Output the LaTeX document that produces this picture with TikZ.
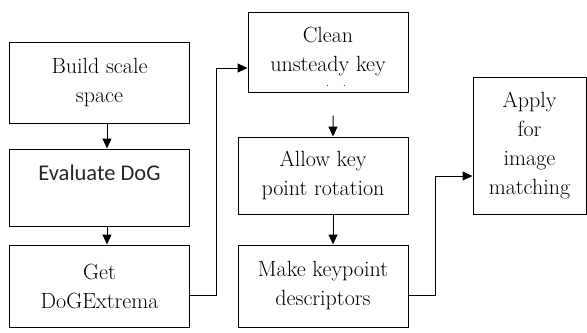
\documentclass[tikz,border=0pt]{standalone}
\usepackage{fontspec}
\newfontfamily\calfont{Carlito}
\usetikzlibrary{arrows.meta,positioning,calc}

\begin{document}
\begin{tikzpicture}[x=1bp,y=-1bp,
    box/.style={draw,line width=1bp,align=center,inner sep=0pt,
      font=\rmfamily\fontsize{22bp}{29bp}\selectfont},
    arr/.style={-{Triangle[length=10bp,width=9bp]},line width=1bp}]
  \useasboundingbox (0,0) rectangle (587,332);
  % Left column
  \node[box,minimum width=179bp,minimum height=81bp] (build) at (99.5,82.5) {Build scale\\space};
  \node[box,minimum width=179bp,minimum height=77bp,text=black!85,
     font=\calfont\fontsize{22.5bp}{29bp}\selectfont]
     (evaluate) at (99.5,187.5) {Evaluate DoG\\\mbox{}};
  \node[box,minimum width=179bp,minimum height=82bp] (get) at (99.5,286) {Get\\DoGExtrema};
  % Middle column
  \node[box,minimum width=160bp,minimum height=80bp,text depth=6bp] (clean) at (328,52) {Clean\\unsteady key};
  \node[font=\normalsize,inner sep=0pt,anchor=base] (cleandots) at (336,86) {.\hspace{14bp}.};
  \node[box,minimum width=170bp,minimum height=77bp] (allow) at (323,175.5) {Allow key\\point rotation};
  \node[box,minimum width=170bp,minimum height=82bp] (make) at (323,286) {Make keypoint\\descriptors};
  % Right
  \node[box,minimum width=113bp,minimum height=137bp] (apply) at (529.5,145.5) {Apply\\for\\image\\matching};
  % connectors
  \draw[arr] ([xshift=7.5bp]build.south) -- ([xshift=7.5bp]evaluate.north);
  \draw[arr] ([xshift=7.5bp]evaluate.south) -- ([xshift=7.5bp]get.north);
  \draw[arr] ([yshift=-9bp]get.east) -- ++(27,0) |- ([yshift=-16bp]clean.west);
  \draw[arr,shorten <=23bp] ([xshift=5bp]clean.south) -- ([xshift=10bp]allow.north);
  \draw[arr] ([xshift=10bp]allow.south) -- ([xshift=10bp]make.north);
  \draw[arr] ([yshift=-9bp]make.east) -- ++(27,0) |- ([yshift=-30.5bp]apply.west);
\end{tikzpicture}
\end{document}
